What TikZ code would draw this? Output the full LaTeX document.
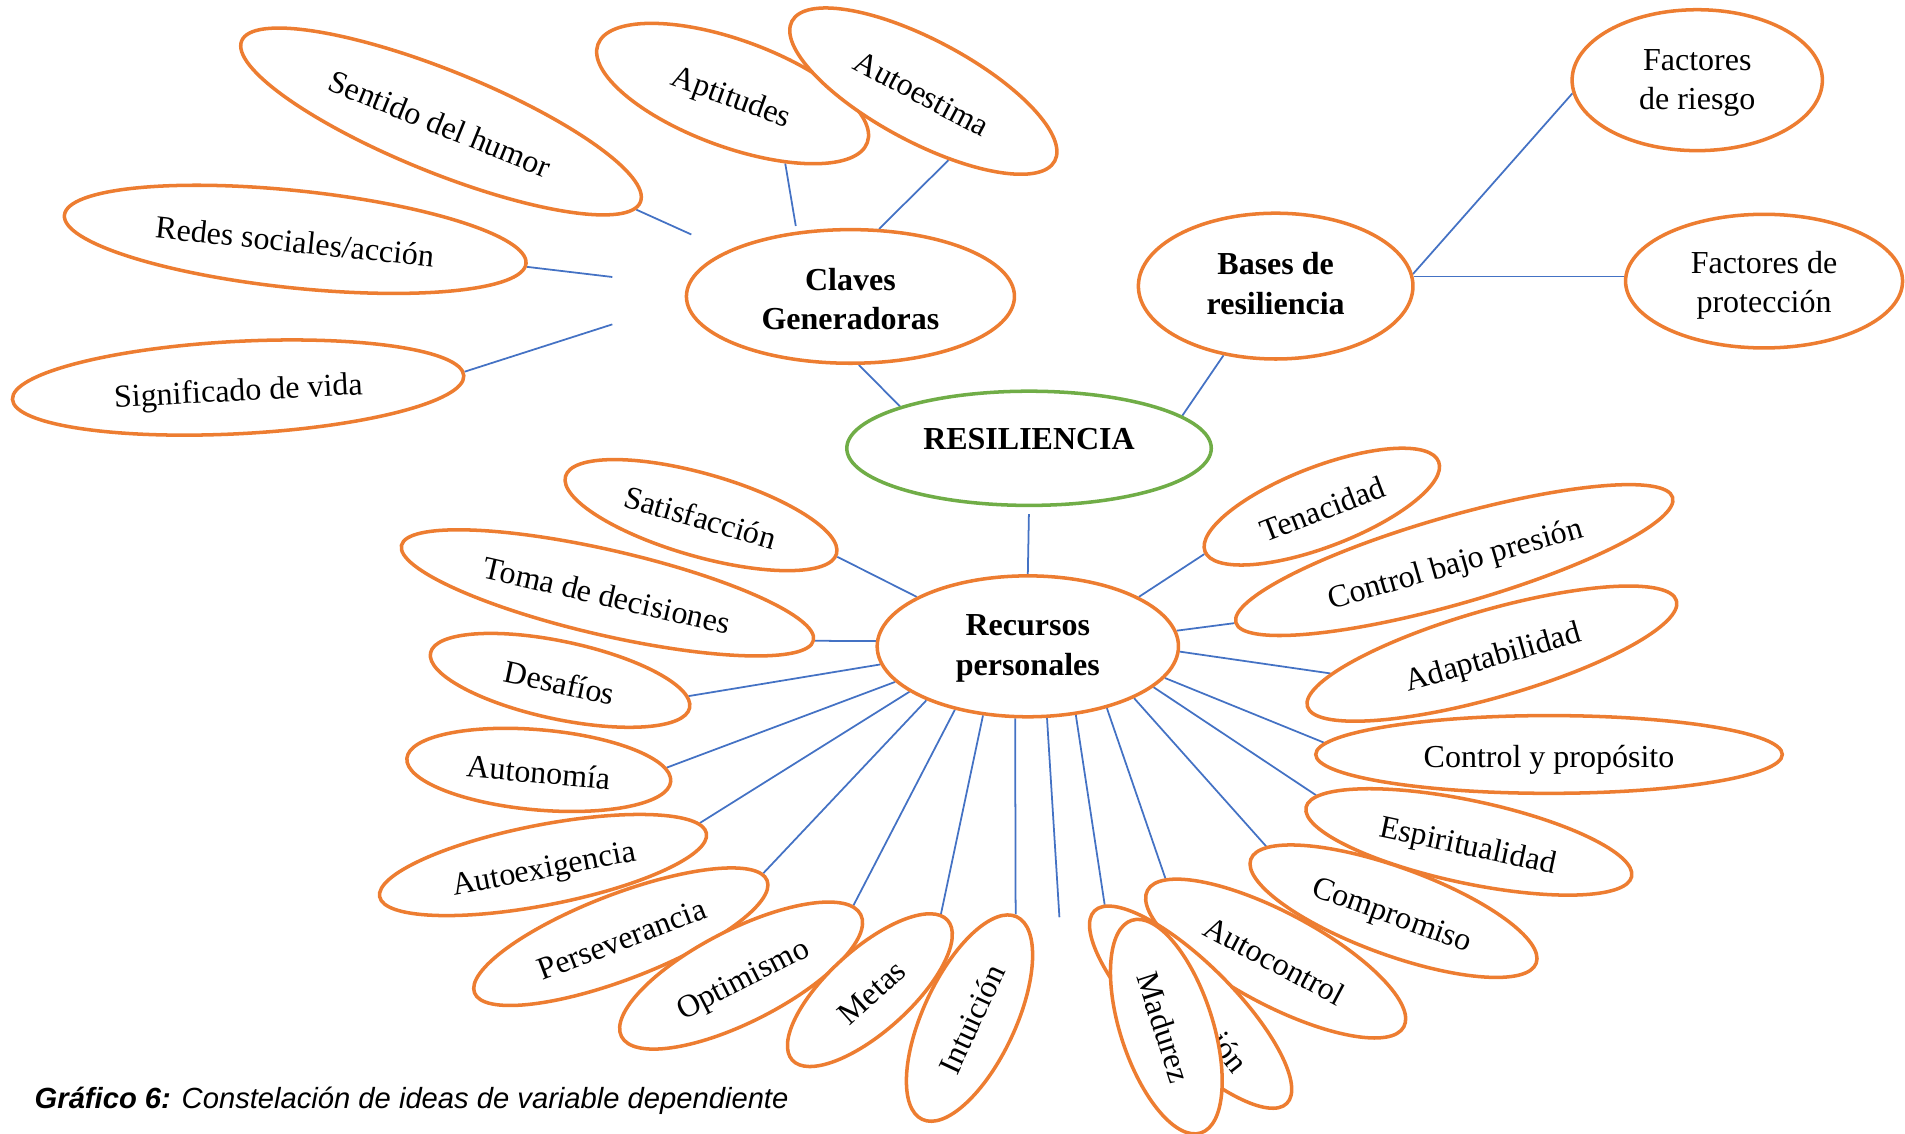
\documentclass[tikz,border=0pt]{standalone}
\usepackage{fontspec}
\setmainfont{Liberation Serif}
\newfontfamily\capfont{Liberation Sans}
\usetikzlibrary{shapes.geometric,backgrounds}
\definecolor{orng}{HTML}{ED7D31}
\definecolor{grn}{HTML}{70AD47}
\definecolor{lnk}{HTML}{4472C4}
\newcommand\hubtxt[2]{\begin{tabular}[t]{@{}c@{}}#1\\#2\end{tabular}}
\begin{document}
\begin{tikzpicture}[x=0.01215cm,y=0.01215cm,
  leaf/.style n args={3}{ellipse, draw=orng, line width=1pt, fill=white, inner sep=0pt,
     minimum width=#1*0.01215cm, minimum height=#2*0.01215cm, rotate=#3,
     text height=0.267cm, text depth=0pt,
     font=\fontsize{9.1}{11.2}\selectfont},
  hub/.style n args={3}{ellipse, draw=orng, line width=1pt, fill=white, inner sep=0pt,
     minimum width=#1*0.01215cm, minimum height=#2*0.01215cm,
     text height=0pt, text depth=#3,
     font=\fontsize{9.1}{11.2}\selectfont\bfseries},
  plain/.style n args={3}{hub={#1}{#2}{#3}, font=\fontsize{9.1}{11.2}\selectfont},
  link/.style={draw=lnk, line width=0.5pt}]
\useasboundingbox (0,0) rectangle (1568,-933);

% central and hubs
\node[hub={300}{94}{0pt}, draw=grn, text height=0.0243cm] (res) at (847,-369) {RESILIENCIA};
\node[hub={270}{110}{0.1215cm}] (claves) at (700,-244) {\hubtxt{Claves}{Generadoras}};
\node[hub={226}{120}{0.2236cm}] (bases) at (1050,-235.5) {\hubtxt{Bases de}{resiliencia}};
\node[plain={206}{116}{0.192cm}] (riesgo) at (1397,-66) {\hubtxt{Factores}{de riesgo}};
\node[plain={228}{110}{0.1555cm}] (prot) at (1452,-231.4) {\hubtxt{Factores de}{protección}};
\node[hub={248}{116}{0.209cm}] (rec) at (846,-532) {\hubtxt{Recursos}{personales}};

% leaves of Claves Generadoras
\node[leaf={354}{84}{-22}] (sent) at (363,-100) {Sentido del humor};
\node[leaf={236}{88}{-20}] (apt) at (603,-77) {Aptitudes};
\node[leaf={245}{84}{-28}] (aest) at (760,-75) {Autoestima};
\node[leaf={382}{80}{-6}] (redes) at (243,-197) {Redes sociales/acción};
\node[leaf={372}{76}{3}] (sig) at (196,-319) {Significado de vida};

% leaves of Recursos personales (left)
\node[leaf={232}{68}{-16}] (sat) at (577,-424) {Satisfacción};
\node[leaf={348}{70}{-13}] (toma) at (500,-488) {Toma de decisiones};
\node[leaf={218}{64}{-12}] (des) at (461,-560) {Desafíos};
\node[leaf={218}{66}{-5}] (auton) at (443.5,-633.7) {Autonomía};
\node[leaf={274}{66}{11}] (axg) at (447,-712) {Autoexigencia};
\node[leaf={258}{70}{21}] (per) at (511,-771) {Perseverancia};
\node[leaf={221}{76}{27}] (opt) at (610,-803) {Optimismo};
\node[leaf={172}{68}{42}] (met) at (716,-815) {Metas};
\node[leaf={184}{76}{65}] (int) at (798,-838) {Intuición};

% leaves of Recursos personales (right)
\node[leaf={206}{66}{21}] (ten) at (1088,-417) {Tenacidad};
\node[leaf={374}{72}{16}] (cbp) at (1197,-461) {Control bajo presión};
\node[leaf={316}{72}{16}] (adp) at (1228,-538) {Adaptabilidad};
\node[leaf={384}{64}{0}] (cyp) at (1275,-621) {Control y propósito};
\node[leaf={274}{68}{-12}] (esp) at (1209,-693) {Espiritualidad};
\node[leaf={250}{72}{-20}] (comp) at (1147,-750) {Compromiso};
\node[leaf={239}{76}{-28}] (actl) at (1050,-789) {Autocontrol};
\node[leaf={224}{72}{-45}] (ione) at (980,-829) {};
\node[font=\fontsize{9.1}{11.2}\selectfont, rotate=-52, inner sep=0pt] (iontxt) at (1012,-866) {ión};
\node[leaf={184}{76}{-72}] (madz) at (960,-845) {Madurez};

% free ends
\coordinate (cSent) at (569,-193);
\coordinate (cRedes) at (504,-228);
\coordinate (cSig) at (504,-267);
\coordinate (cApt) at (655,-186);
\coordinate (cFree) at (872,-755);

\begin{scope}[on background layer]
\draw[link] (sent) -- (cSent);
\draw[link] (redes) -- (cRedes);
\draw[link] (sig.1) -- (cSig);
\draw[link] (apt.-33) -- (cApt);
\draw[link] (aest.-42) -- (claves.67);
\draw[link] (claves.-83) -- (res.162);
\draw[link] (bases.-127) -- (res.12);
\draw[link] (bases.5) -- (riesgo.-174);
\draw[link] (bases.4) -- (bases.4 -| prot.west);
\draw[link, shorten <=0.07cm] (res.south) -- (rec.north);
% left
\draw[link] (sat.-1) -- (rec.156);
\draw[link] (toma.0) -- (rec.178);
\draw[link] (des.5) -- (rec.-173);
\draw[link] (auton.6) -- (rec.-165);
\draw[link] (axg.4) -- (rec.-159);
\draw[link] (per.3) -- (rec.-152);
\draw[link] (opt.5) -- (rec.-139);
\draw[link] (met.5) -- (rec.-123);
\draw[link] (int.1) -- (rec.-100);
% right
\draw[link] (rec.-75) -- (cFree);
\draw[link] (rec.-55) -- (ione.175);
\draw[link] (rec.-38) -- (actl.172);
\draw[link] (rec.-26) -- (comp.173);
\draw[link] (rec.-18) -- (esp.175);
\draw[link] (rec.-13) -- (cyp.177);
\draw[link] (rec.-2) -- (adp.171);
\draw[link] (rec.6) -- (cbp.180);
\draw[link] (rec.24) -- (ten.-179);
\end{scope}

\node[anchor=west, inner sep=0pt, font=\capfont\fontsize{8.3}{10}\selectfont\itshape] (cap) at (28,-906)
  {\textbf{Gráfico 6:} Constelación de ideas de variable dependiente};
\end{tikzpicture}
\end{document}
